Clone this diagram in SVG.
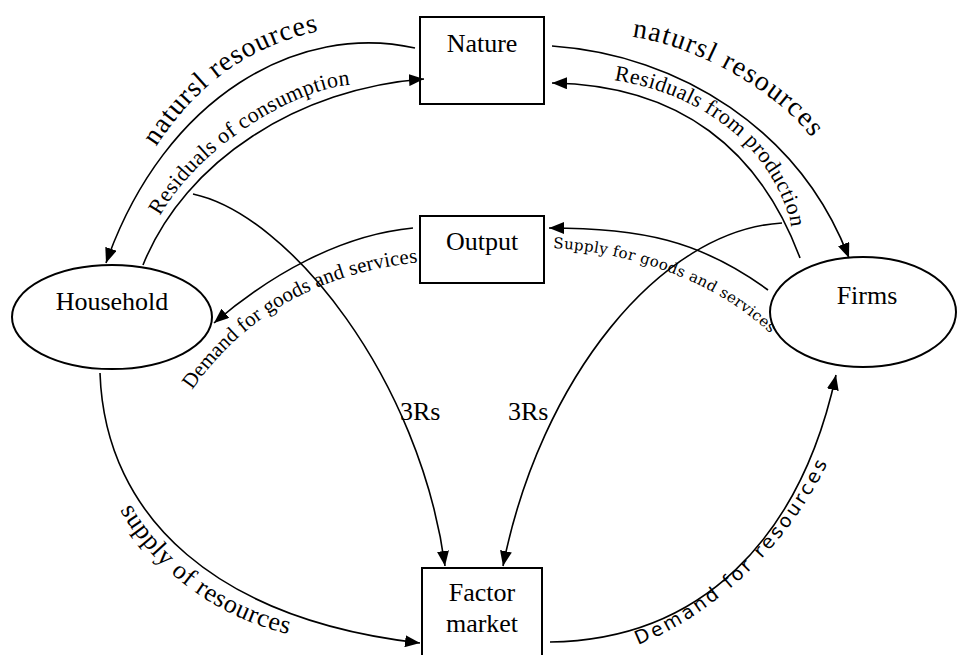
<svg xmlns="http://www.w3.org/2000/svg" xmlns:xlink="http://www.w3.org/1999/xlink" width="959" height="655" viewBox="0 0 959 655">
<style>
.node{fill:#fff;stroke:#000;stroke-width:2}
.lbl{font-family:"Liberation Serif","Times New Roman",Times,serif;font-size:26px;fill:#000}
.conn{fill:none;stroke:#000;stroke-width:1.6}
.ser{font-family:"Liberation Serif","Times New Roman",Times,serif;fill:#000}
.dser{font-family:"DejaVu Serif",serif;fill:#000}
.sans{font-family:"DejaVu Sans",sans-serif;fill:#000}
.guide{fill:none;stroke:none}
</style>
<defs>
<marker id="ah" markerUnits="userSpaceOnUse" markerWidth="16" markerHeight="12" refX="15" refY="6" orient="auto">
<path d="M0,0 L15,6 L0,12 z" fill="#000"/>
</marker>
<path id="t1" class="guide" d="M156,147 C 198,82 252,45 320,31 L 350,26"/>
<path id="t2" class="guide" d="M160,216 C 200,145 295,90 348,85 L 380,83"/>
<path id="t3" class="guide" d="M632,37 C 696,45 780,94 811,137 L 827,161"/>
<path id="t4" class="guide" d="M614,80 C 690,92 765,135 790,220 L 794,245"/>
<path id="t5" class="guide" d="M553,248 C 640,253 720,285 772,335 L 785,350"/>
<path id="t6" class="guide" d="M192,390 C 245,315 320,272 422,262 L 450,260"/>
<path id="t7" class="guide" d="M120,510 C 160,580 230,625 308,638 L 340,642"/>
<path id="t8" class="guide" d="M638,645 C 720,612 792,540 830,458 L 840,430"/>
</defs>

<g id="nature"><rect class="node" x="420" y="17" width="124" height="87"/><text class="lbl" x="482" y="52" text-anchor="middle">Nature</text></g>
<g id="output"><rect class="node" x="420" y="216" width="124" height="67"/><text class="lbl" x="482" y="250" text-anchor="middle">Output</text></g>
<g id="household"><ellipse class="node" cx="112" cy="317" rx="100" ry="52"/><text class="lbl" x="112" y="310" text-anchor="middle">Household</text></g>
<g id="firms"><ellipse class="node" cx="863" cy="312" rx="93" ry="55"/><text class="lbl" x="867" y="304" text-anchor="middle">Firms</text></g>
<g id="factor"><rect class="node" x="422" y="568" width="120" height="95"/><text class="lbl" x="482" y="601" text-anchor="middle">Factor</text><text class="lbl" x="482" y="632" text-anchor="middle">market</text></g>

<g id="connectors">
<path class="conn" d="M415,48 C 300,22 165,95 106,263" marker-end="url(#ah)"/>
<path class="conn" d="M143,265 C 185,160 300,88 424,79" marker-end="url(#ah)"/>
<path class="conn" d="M552,46 C 680,55 800,130 849,258" marker-end="url(#ah)"/>
<path class="conn" d="M800,258 C 760,150 680,85 552,83" marker-end="url(#ah)"/>
<path class="conn" d="M768,290 C 700,240 640,228 549,228" marker-end="url(#ah)"/>
<path class="conn" d="M413,228 C 340,235 270,275 214,323" marker-end="url(#ah)"/>
<path class="conn" d="M193,194 C 290,215 420,380 445,566" marker-end="url(#ah)"/>
<path class="conn" d="M782,223 C 660,230 540,380 503,566" marker-end="url(#ah)"/>
<path class="conn" d="M100,373 C 105,520 220,620 420,643" marker-end="url(#ah)"/>
<path class="conn" d="M550,642 C 700,640 800,540 836,375" marker-end="url(#ah)"/>

<text class="ser" font-size="28"><textPath xlink:href="#t1" href="#t1" textLength="205" lengthAdjust="spacing">natursl resources</textPath></text>
<text class="ser" font-size="22"><textPath xlink:href="#t2" href="#t2" textLength="238" lengthAdjust="spacing">Residuals of consumption</textPath></text>
<text class="ser" font-size="28"><textPath xlink:href="#t3" href="#t3" textLength="210" lengthAdjust="spacing">natursl resources</textPath></text>
<text class="ser" font-size="22"><textPath xlink:href="#t4" href="#t4" textLength="245" lengthAdjust="spacing">Residuals from production</textPath></text>
<text class="dser" font-size="15"><textPath xlink:href="#t5" href="#t5" textLength="238" lengthAdjust="spacing">Supply for goods and services</textPath></text>
<text class="ser" font-size="21"><textPath xlink:href="#t6" href="#t6" textLength="268" lengthAdjust="spacing">Demand for goods and services</textPath></text>
<text class="ser" font-size="26"><textPath xlink:href="#t7" href="#t7" textLength="215" lengthAdjust="spacing">supply of resources</textPath></text>
<text class="sans" font-size="19"><textPath xlink:href="#t8" href="#t8" textLength="268" lengthAdjust="spacing">Demand for resources</textPath></text>
<text class="lbl" x="400" y="420">3Rs</text>
<text class="lbl" x="508" y="420">3Rs</text>
</g>
</svg>
